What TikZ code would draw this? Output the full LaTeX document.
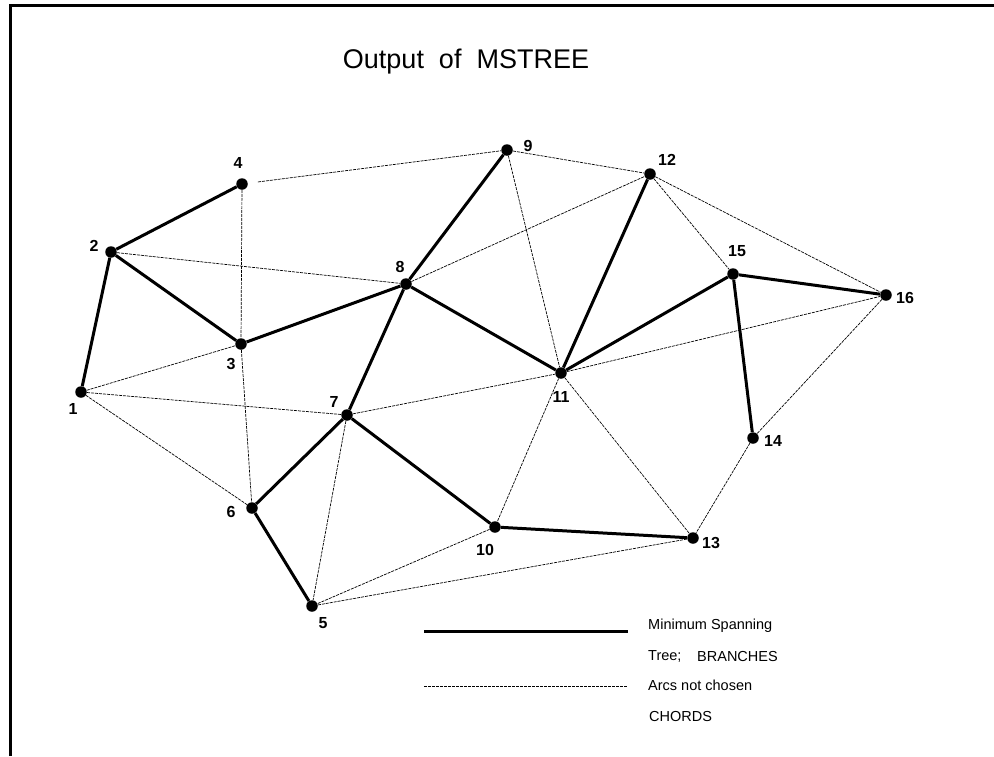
\documentclass[tikz,border=0pt]{standalone}
\usepackage{fontspec}
\setmainfont{Liberation Sans}
\usetikzlibrary{calc}
\begin{document}
\begin{tikzpicture}[x=1pt,y=-1pt,
  vertex/.style={circle,fill=black,inner sep=0pt,minimum size=11.5pt},
  branch/.style={line width=3pt},
  chord/.style={line width=0.7pt,dash pattern=on 3pt off 1pt},
  lab/.style={font=\bfseries\fontsize{16}{16}\selectfont,inner sep=0pt},
  legtext/.style={font=\fontsize{14.5}{14.5}\selectfont,anchor=west,inner sep=0pt}]
\useasboundingbox (0,0) rectangle (994,756);
% frame
\draw[line width=3pt] (10,756) -- (10,5) -- (994,5);
% title
\node[font=\fontsize{27}{27}\selectfont] (title) at (466,62) {Output\ \ of\ \ MSTREE};
% vertices
\node[vertex] (n1)  at (81,392) {};
\node[vertex] (n2)  at (111,252) {};
\node[vertex] (n3)  at (241,344) {};
\node[vertex] (n4)  at (242,184) {};
\node[vertex] (n5)  at (312,606) {};
\node[vertex] (n6)  at (252,508) {};
\node[vertex] (n7)  at (347,415) {};
\node[vertex] (n8)  at (406,284) {};
\node[vertex] (n9)  at (507,150) {};
\node[vertex] (n10) at (495,527) {};
\node[vertex] (n11) at (561,373) {};
\node[vertex] (n12) at (650,174) {};
\node[vertex] (n13) at (693,538) {};
\node[vertex] (n14) at (753,438) {};
\node[vertex] (n15) at (733,274) {};
\node[vertex] (n16) at (886,295) {};
% vertex numbers
\node[lab] (l1)  at (73,409) {1};
\node[lab] (l2)  at (94,246) {2};
\node[lab] (l3)  at (231,364) {3};
\node[lab] (l4)  at (238,163) {4};
\node[lab] (l5)  at (323,623) {5};
\node[lab] (l6)  at (231,512) {6};
\node[lab] (l7)  at (334,402) {7};
\node[lab] (l8)  at (400,267) {8};
\node[lab] (l9)  at (528,146) {9};
\node[lab] (l10) at (485,550) {10};
\node[lab] (l11) at (561,397) {11};
\node[lab] (l12) at (667,160) {12};
\node[lab] (l13) at (711,543) {13};
\node[lab] (l14) at (773,441) {14};
\node[lab] (l15) at (737,251) {15};
\node[lab] (l16) at (905,298) {16};
% chords (arcs not chosen)
\draw[chord] ($(n4)!16pt!(n9)$) -- (n9);
\draw[chord] (n4) -- (n3);
\draw[chord] (n2) -- (n8);
\draw[chord] (n1) -- (n3);
\draw[chord] (n1) -- (n7);
\draw[chord] (n1) -- (n6);
\draw[chord] (n3) -- (n6);
\draw[chord] (n7) -- (n5);
\draw[chord] (n7) -- (n11);
\draw[chord] (n11) -- (n16);
\draw[chord] (n8) -- (n12);
\draw[chord] (n9) -- (n11);
\draw[chord] (n9) -- (n12);
\draw[chord] (n12) -- (n15);
\draw[chord] (n12) -- (n16);
\draw[chord] (n16) -- (n14);
\draw[chord] (n14) -- (n13);
\draw[chord] (n11) -- (n13);
\draw[chord] (n11) -- (n10);
\draw[chord] (n10) -- (n5);
\draw[chord] (n5) -- (n13);
% branches of the minimum spanning tree
\draw[branch] (n2) -- (n4);
\draw[branch] (n1) -- (n2);
\draw[branch] (n2) -- (n3);
\draw[branch] (n3) -- (n8);
\draw[branch] (n8) -- (n9);
\draw[branch] (n8) -- (n7);
\draw[branch] (n8) -- (n11);
\draw[branch] (n11) -- (n12);
\draw[branch] (n11) -- (n15);
\draw[branch] (n15) -- (n16);
\draw[branch] (n15) -- (n14);
\draw[branch] (n7) -- (n6);
\draw[branch] (n6) -- (n5);
\draw[branch] (n7) -- (n10);
\draw[branch] (n10) -- (n13);
% legend
\coordinate (lb1) at (424,631);
\coordinate (lb2) at (628,631);
\coordinate (lc1) at (424,686);
\coordinate (lc2) at (628,686);
\draw[branch] (lb1) -- (lb2);
\draw[chord] (lc1) -- (lc2);
\node[legtext] (t1) at (648,626) {Minimum Spanning};
\node[legtext] (t2) at (648,656) {Tree;};
\node[legtext] (t3) at (697,656) {BRANCHES};
\node[legtext] (t4) at (648,685) {Arcs not chosen};
\node[legtext] (t5) at (649,716) {CHORDS};
\end{tikzpicture}
\end{document}
